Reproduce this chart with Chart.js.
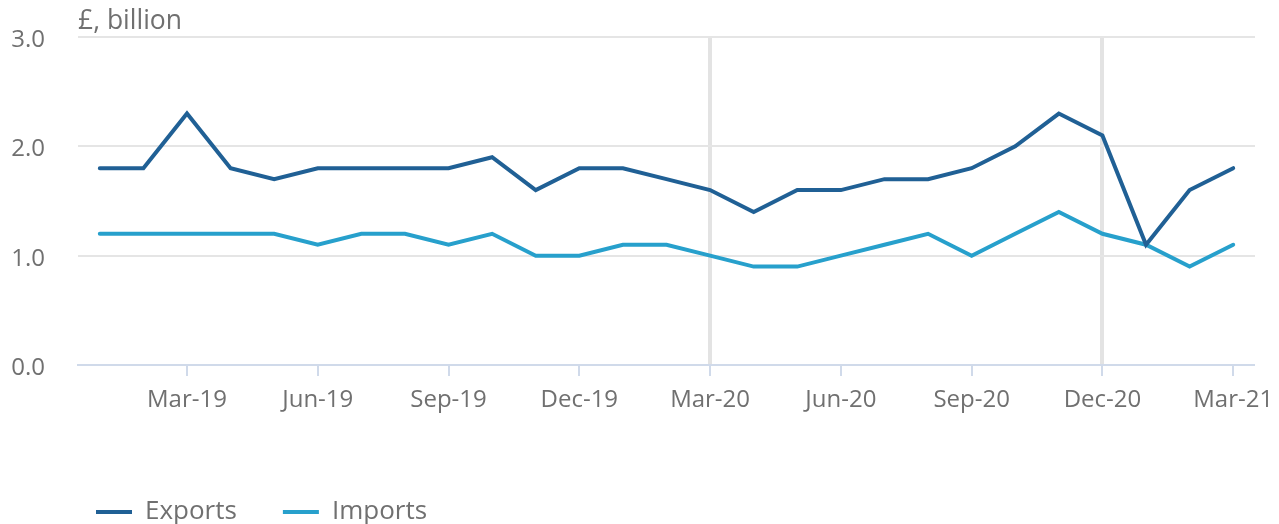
<!DOCTYPE html>
<html>
<head>
<meta charset="utf-8">
<script src="https://cdn.jsdelivr.net/npm/chart.js@4/dist/chart.umd.min.js"></script>
<style>
  body { margin: 0; background: #fff; }
  #wrap { width: 1279px; height: 524px; position: relative; }
</style>
</head>
<body>
<div id="wrap"><canvas id="chart"></canvas></div>
<script>
// monthly values, £ billion
var months = ['Jan-19', 'Feb-19', 'Mar-19', 'Apr-19', 'May-19', 'Jun-19', 'Jul-19', 'Aug-19', 'Sep-19',
  'Oct-19', 'Nov-19', 'Dec-19', 'Jan-20', 'Feb-20', 'Mar-20', 'Apr-20', 'May-20', 'Jun-20', 'Jul-20',
  'Aug-20', 'Sep-20', 'Oct-20', 'Nov-20', 'Dec-20', 'Jan-21', 'Feb-21', 'Mar-21'];
var exportsData = [1.8, 1.8, 2.3, 1.8, 1.7, 1.8, 1.8, 1.8, 1.8, 1.9, 1.6, 1.8, 1.8, 1.7, 1.6, 1.4, 1.6, 1.6,
  1.7, 1.7, 1.8, 2.0, 2.3, 2.1, 1.1, 1.6, 1.8];
var importsData = [1.2, 1.2, 1.2, 1.2, 1.2, 1.1, 1.2, 1.2, 1.1, 1.2, 1.0, 1.0, 1.1, 1.1, 1.0, 0.9, 0.9, 1.0,
  1.1, 1.2, 1.0, 1.2, 1.4, 1.2, 1.1, 0.9, 1.1];
var yTicks = [0, 1, 2, 3];
var markedMonths = ['Mar-20', 'Dec-20']; // highlighted vertical lines

var textColor = '#707070';
var fontFamily = "'Open Sans', sans-serif";

function isQuarter(label) {
  return /^(Mar|Jun|Sep|Dec)/.test(label);
}

// unit label above the plot
var unitLabel = {
  id: 'unitLabel',
  afterDraw: function (chart) {
    var ctx = chart.ctx;
    ctx.save();
    ctx.fillStyle = textColor;
    ctx.font = '26.5px ' + fontFamily;
    ctx.textAlign = 'left';
    ctx.textBaseline = 'alphabetic';
    ctx.fillText('£, billion', chart.chartArea.left, 29);
    ctx.restore();
  }
};

// move the legend to the lower left
var legendPlace = {
  id: 'legendPlace',
  afterLayout: function (chart) {
    chart.legend.left = 50;
    chart.legend.top = 453;
  }
};

var ctx = document.getElementById('chart').getContext('2d');
var chart = new Chart(ctx, {
  type: 'line',
  data: {
    labels: months,
    datasets: [
      {
        label: 'Exports',
        data: exportsData,
        borderColor: '#206095',
        backgroundColor: '#206095',
        borderWidth: 4,
        borderCapStyle: 'round',
        pointRadius: 0,
        tension: 0
      },
      {
        label: 'Imports',
        data: importsData,
        borderColor: '#27a0cc',
        backgroundColor: '#27a0cc',
        borderWidth: 4,
        borderCapStyle: 'round',
        pointRadius: 0,
        tension: 0
      }
    ]
  },
  options: {
    responsive: true,
    maintainAspectRatio: false,
    animation: false,
    layout: { padding: { top: 37, right: 24, left: 0, bottom: 0 } },
    plugins: {
      tooltip: { enabled: false },
      legend: {
        position: 'bottom',
        align: 'start',
        labels: {
          color: textColor,
          font: { family: fontFamily, size: 26 },
          usePointStyle: true,
          pointStyle: 'line',
          pointStyleWidth: 36,
          padding: 46
        }
      }
    },
    scales: {
      x: {
        offset: true,
        afterFit: function (scale) {
          scale.height = 77;
          scale.paddingLeft = 0;
          scale.paddingRight = 0;
        },
        border: { display: true, color: '#d0daea', width: 2 },
        grid: {
          offset: false,
          drawOnChartArea: true,
          tickLength: 11,
          tickWidth: 2,
          color: function (c) {
            return markedMonths.indexOf(months[c.index]) >= 0 ? '#e3e3e3' : 'rgba(0,0,0,0)';
          },
          lineWidth: function (c) {
            return markedMonths.indexOf(months[c.index]) >= 0 ? 4 : 0;
          },
          tickColor: function (c) {
            return isQuarter(months[c.index]) ? '#d0daea' : 'rgba(0,0,0,0)';
          }
        },
        ticks: {
          autoSkip: false,
          maxRotation: 0,
          color: textColor,
          font: { family: fontFamily, size: 24 },
          padding: 10,
          callback: function (value, index) {
            var lbl = months[index];
            return isQuarter(lbl) ? lbl : '';
          }
        }
      },
      y: {
        min: 0,
        max: 3,
        afterFit: function (scale) {
          scale.width = 78;
          scale.paddingTop = 0;
          scale.paddingBottom = 0;
        },
        afterBuildTicks: function (scale) {
          scale.ticks = yTicks.map(function (v) { return { value: v }; });
        },
        border: { display: false },
        grid: {
          color: '#e5e5e5',
          lineWidth: 2,
          drawTicks: false
        },
        ticks: {
          color: textColor,
          font: { family: fontFamily, size: 24 },
          padding: 33,
          labelOffset: 3,
          callback: function (value) { return value.toFixed(1); }
        }
      }
    }
  },
  plugins: [unitLabel, legendPlace]
});
</script>
</body>
</html>
